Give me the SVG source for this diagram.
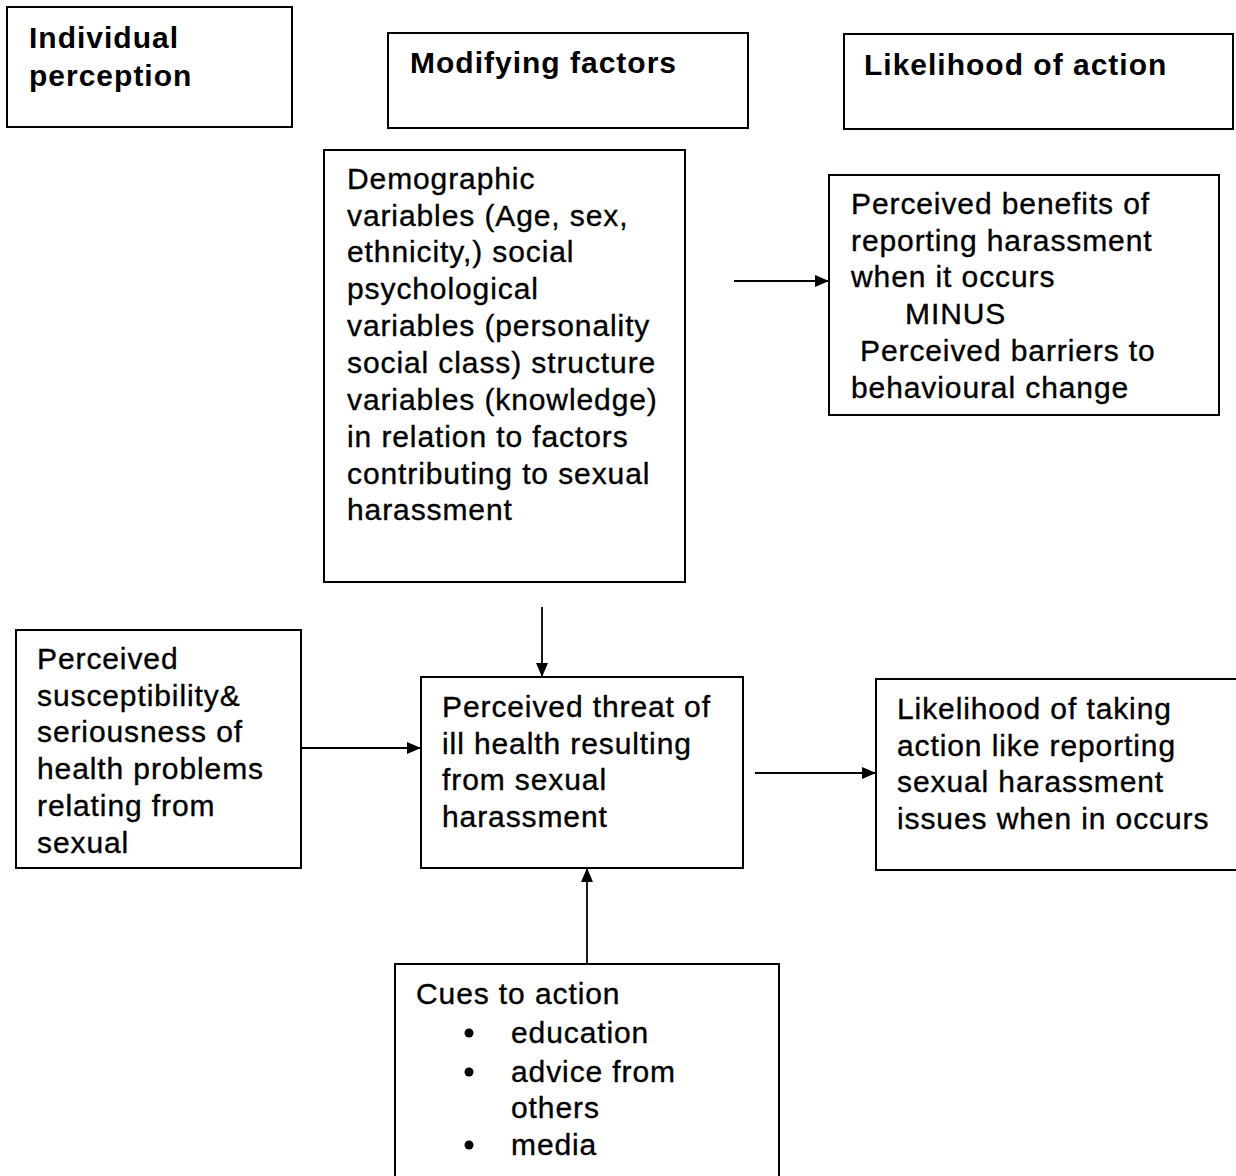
<svg xmlns="http://www.w3.org/2000/svg" width="1236" height="1176" viewBox="0 0 1236 1176">
<style>
.box{fill:#fff;stroke:#000;stroke-width:2}
.h{font-family:"Liberation Sans",Arial,sans-serif;font-weight:bold;font-size:30px;letter-spacing:1px;fill:#000}
.t{font-family:"Liberation Sans",Arial,sans-serif;font-size:30px;letter-spacing:0.9px;fill:#000;stroke:#000;stroke-width:0.35}
.c{stroke:#000;stroke-width:1.8;fill:none;marker-end:url(#ah)}
</style>
<defs>
<marker id="ah" viewBox="0 0 14 12" refX="14" refY="6" markerWidth="14" markerHeight="12" markerUnits="userSpaceOnUse" orient="auto">
<path d="M0,0 L14,6 L0,12 Z" fill="#000"/>
</marker>
</defs>
<rect width="1236" height="1176" fill="#fff"/>
<g id="hdr-individual">
<rect class="box" x="7" y="7" width="285" height="120"/>
<text class="h" x="29" y="48">Individual</text>
<text class="h" x="29" y="86">perception</text>
</g>
<g id="hdr-modifying">
<rect class="box" x="388" y="33" width="360" height="95"/>
<text class="h" x="410" y="73">Modifying factors</text>
</g>
<g id="hdr-likelihood">
<rect class="box" x="844" y="34" width="389" height="95"/>
<text class="h" x="864" y="75">Likelihood of action</text>
</g>
<g id="demographic">
<rect class="box" x="324" y="150" width="361" height="432"/>
<text class="t" x="347" y="189">Demographic</text>
<text class="t" x="347" y="226">variables (Age, sex,</text>
<text class="t" x="347" y="262">ethnicity,) social</text>
<text class="t" x="347" y="299">psychological</text>
<text class="t" x="347" y="336">variables (personality</text>
<text class="t" x="347" y="373">social class) structure</text>
<text class="t" x="347" y="410">variables (knowledge)</text>
<text class="t" x="347" y="447">in relation to factors</text>
<text class="t" x="347" y="484">contributing to sexual</text>
<text class="t" x="347" y="520">harassment</text>
</g>
<g id="benefits">
<rect class="box" x="829" y="175" width="390" height="240"/>
<text class="t" x="851" y="214">Perceived benefits of</text>
<text class="t" x="851" y="251">reporting harassment</text>
<text class="t" x="851" y="287">when it occurs</text>
<text class="t" x="905" y="324">MINUS</text>
<text class="t" x="860" y="361">Perceived barriers to</text>
<text class="t" x="851" y="398">behavioural change</text>
</g>
<g id="susceptibility">
<rect class="box" x="16" y="630" width="285" height="238"/>
<text class="t" x="37" y="669">Perceived</text>
<text class="t" x="37" y="706">susceptibility&amp;</text>
<text class="t" x="37" y="742">seriousness of</text>
<text class="t" x="37" y="779">health problems</text>
<text class="t" x="37" y="816">relating from</text>
<text class="t" x="37" y="853">sexual</text>
</g>
<g id="threat">
<rect class="box" x="421" y="677" width="322" height="191"/>
<text class="t" x="442" y="717">Perceived threat of</text>
<text class="t" x="442" y="754">ill health resulting</text>
<text class="t" x="442" y="790">from sexual</text>
<text class="t" x="442" y="827">harassment</text>
</g>
<g id="taking-action">
<rect class="box" x="876" y="679" width="370" height="191"/>
<text class="t" x="897" y="719">Likelihood of taking</text>
<text class="t" x="897" y="756">action like reporting</text>
<text class="t" x="897" y="792">sexual harassment</text>
<text class="t" x="897" y="829">issues when in occurs</text>
</g>
<g id="cues">
<rect class="box" x="395" y="964" width="384" height="230"/>
<text class="t" x="416" y="1004">Cues to action</text>
<circle cx="469" cy="1033" r="4.5" fill="#000"/>
<text class="t" x="511" y="1043">education</text>
<circle cx="469" cy="1072" r="4.5" fill="#000"/>
<text class="t" x="511" y="1082">advice from</text>
<text class="t" x="511" y="1118">others</text>
<circle cx="469" cy="1145" r="4.5" fill="#000"/>
<text class="t" x="511" y="1155">media</text>
</g>
<g id="connectors">
<line class="c" x1="734" y1="281" x2="829" y2="281"/>
<line class="c" x1="542" y1="607" x2="542" y2="677"/>
<line class="c" x1="302" y1="748" x2="421" y2="748"/>
<line class="c" x1="755" y1="773" x2="876" y2="773"/>
<line class="c" x1="587" y1="964" x2="587" y2="868"/>
</g>
</svg>
